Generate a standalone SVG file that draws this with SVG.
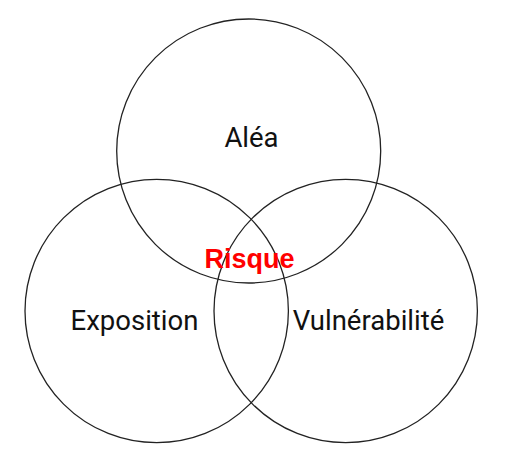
<svg xmlns="http://www.w3.org/2000/svg" width="513" height="456" viewBox="0 0 513 456">
<style>
.c{fill:none;stroke:#222;stroke-width:1.3}
.t{font-family:Roboto,"Liberation Sans",sans-serif;font-size:27.5px;fill:#111;text-anchor:middle}
.r{font-family:"Liberation Sans",Arial,sans-serif;font-size:27px;font-weight:bold;fill:#ff0000;text-anchor:middle}
</style>
<rect width="513" height="456" fill="#fff"/>
<g id="alea"><circle class="c" cx="248.7" cy="151" r="132"/><text class="t" x="251.5" y="147">Aléa</text></g>
<g id="exposition"><circle class="c" cx="156.7" cy="311" r="131.7"/><text class="t" x="134.5" y="329.5">Exposition</text></g>
<g id="vulnerabilite"><circle class="c" cx="345.7" cy="311" r="131.7"/><text class="t" x="368.5" y="329.5">Vulnérabilité</text></g>
<g id="risque"><text class="r" x="249.5" y="267.5">Risque</text></g>
<g id="connectors"/>
</svg>
